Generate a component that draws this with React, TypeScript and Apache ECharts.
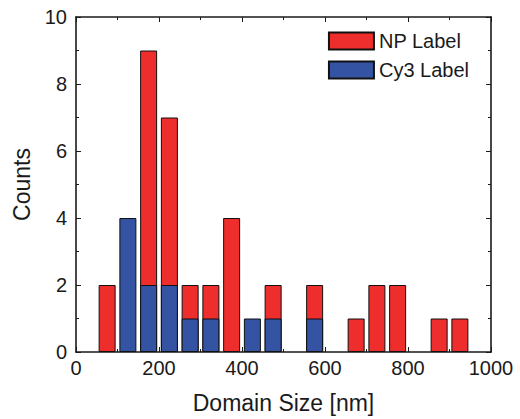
import React, { useEffect, useRef } from "react";
import * as echarts from "echarts";

// Histogram bin centres (nm), 50 nm bins
const binCenters = [75, 125, 175, 225, 275, 325, 375, 425, 475, 525, 575, 625, 675, 725, 775, 825, 875, 925, 975];
const npCounts = [2, 0, 9, 7, 2, 2, 4, 0, 2, 0, 2, 0, 1, 2, 2, 0, 1, 1, 0];
const cy3Counts = [0, 4, 2, 2, 1, 1, 0, 1, 1, 0, 1, 0, 0, 0, 0, 0, 0, 0, 0];

const xTicks = [0, 200, 400, 600, 800, 1000];
const yTicks = [0, 2, 4, 6, 8, 10];

const RED = "#ee2d2d";
const BLUE = "#3553a3";
const INK = "#1a1a1a";
const FONT = "Liberation Sans, Arial, sans-serif";

export default function App() {
  const ref = useRef<HTMLDivElement>(null);

  useEffect(() => {
    if (!ref.current) return;
    const chart = echarts.init(ref.current, undefined, { renderer: "svg" });

    const axisLine = { show: true, onZero: false, lineStyle: { color: INK, width: 1.6 } };
    const axisTick = { show: true, inside: true, length: 5, lineStyle: { color: INK, width: 1 } };
    const minorTick = { show: true, splitNumber: 2, length: 3, lineStyle: { color: INK, width: 1 } };

    const xCommon = {
      type: "value" as const,
      min: xTicks[0],
      max: xTicks[xTicks.length - 1],
      interval: xTicks[1] - xTicks[0],
      axisLine,
      axisTick,
      minorTick,
      splitLine: { show: false },
    };
    const yCommon = {
      type: "value" as const,
      min: yTicks[0],
      max: yTicks[yTicks.length - 1],
      interval: yTicks[1] - yTicks[0],
      axisLine,
      axisTick,
      minorTick,
      splitLine: { show: false },
    };

    chart.setOption({
      animation: false,
      backgroundColor: "#ffffff",
      textStyle: { fontFamily: FONT },
      grid: { left: 76, right: 29, top: 17, bottom: 67, containLabel: false },
      legend: {
        orient: "vertical",
        right: 51,
        top: 31,
        padding: 0,
        itemWidth: 45,
        itemHeight: 17,
        itemGap: 9,
        icon: "rect",
        textStyle: { fontFamily: FONT, fontSize: 20, color: INK },
        data: ["NP Label", "Cy3 Label"],
      },
      xAxis: [
        {
          ...xCommon,
          position: "bottom",
          name: "Domain Size [nm]",
          nameLocation: "middle",
          nameGap: 39,
          nameTextStyle: { fontFamily: FONT, fontSize: 23, color: INK },
          axisLabel: {
            fontFamily: FONT,
            fontSize: 20,
            color: INK,
            margin: 6,
            formatter: (v: number) => String(v),
          },
        },
        {
          ...xCommon,
          position: "top",
          axisLabel: { show: false },
        },
      ],
      yAxis: [
        {
          ...yCommon,
          position: "left",
          name: "Counts",
          nameLocation: "middle",
          nameGap: 38,
          nameTextStyle: { fontFamily: FONT, fontSize: 23, color: INK },
          axisLabel: { fontFamily: FONT, fontSize: 20, color: INK, margin: 9 },
        },
        {
          ...yCommon,
          position: "right",
          axisLabel: { show: false },
        },
      ],
      series: [
        {
          name: "NP Label",
          type: "bar",
          xAxisIndex: 0,
          yAxisIndex: 0,
          barWidth: 17,
          barGap: "-100%",
          itemStyle: { color: RED, borderColor: "#111", borderWidth: 1 },
          data: binCenters.map((c, i) => [c, npCounts[i]]).filter((d) => d[1] > 0),
        },
        {
          name: "Cy3 Label",
          type: "bar",
          xAxisIndex: 0,
          yAxisIndex: 0,
          barWidth: 17,
          barGap: "-100%",
          itemStyle: { color: BLUE, borderColor: "#111", borderWidth: 1 },
          data: binCenters.map((c, i) => [c, cy3Counts[i]]).filter((d) => d[1] > 0),
        },
      ],
    });

    return () => chart.dispose();
  }, []);

  return (
    <div
      ref={ref}
      style={{ position: "absolute", left: 0, top: 0, width: 520, height: 419 }}
    />
  );
}
